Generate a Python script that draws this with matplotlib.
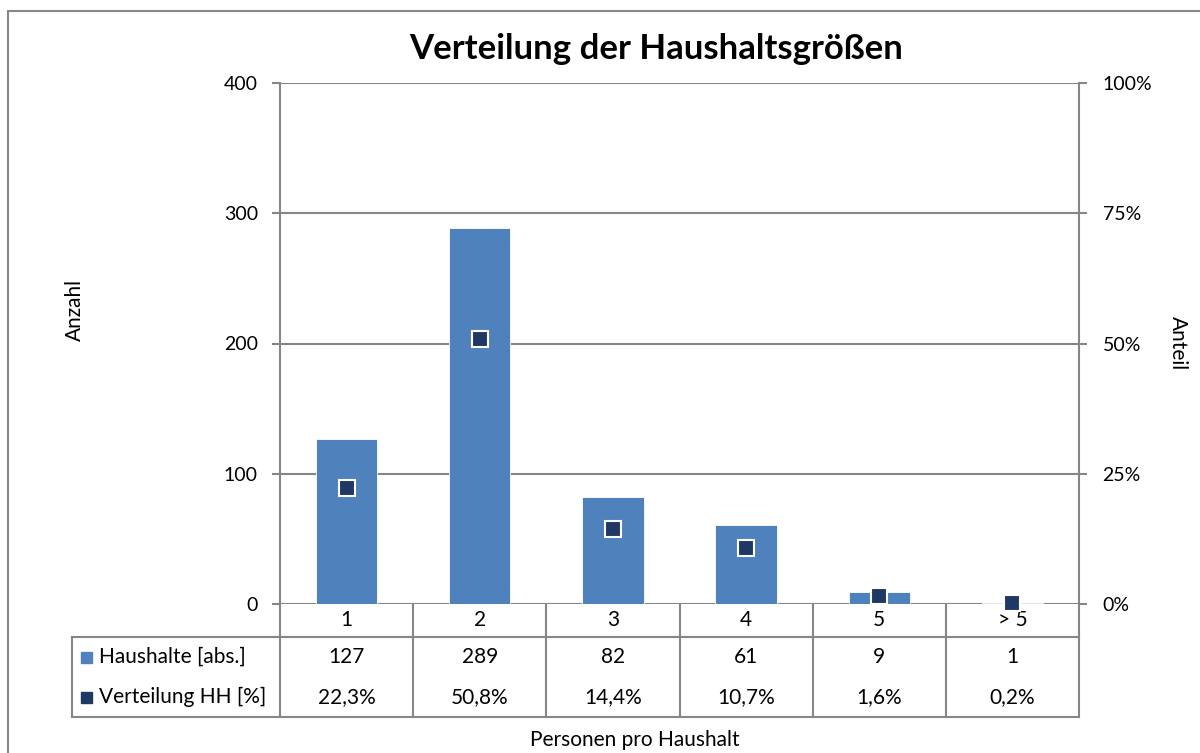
import matplotlib
matplotlib.use("Agg")
import matplotlib.pyplot as plt
from matplotlib.patches import Rectangle
from matplotlib.lines import Line2D
from matplotlib.ticker import FixedLocator, FuncFormatter
import matplotlib.transforms as mtransforms

plt.rcParams.update({"font.family": ["Lato", "DejaVu Sans"], "font.size": 14})

# ── Data ───────────────────────────────────────────────────────
categories = ["1", "2", "3", "4", "5", "> 5"]
haushalte  = [127, 289, 82, 61, 9, 1]
anteil_pct = [22.3, 50.8, 14.4, 10.7, 1.6, 0.2]
row_labels = ["Haushalte [abs.]", "Verteilung HH [%]"]

COL_BAR  = "#4F81BD"
COL_MARK = "#1F3864"
COL_LINE = "#868686"

W, H = 1200, 753
fig = plt.figure(figsize=(W / 100, H / 100), dpi=100)

def fx(px): return px / W
def fy(py): return 1 - py / H

# plot area in pixels: x 280..1079, y 83..604
ax = fig.add_axes([fx(280), fy(604), fx(1079) - fx(280), fy(83) - fy(604)])
ax2 = ax.twinx()

x = list(range(len(categories)))
ax.bar(x, haushalte, width=0.46, color=COL_BAR, edgecolor="white", lw=0.6, zorder=2)
ax.set_xlim(-0.5, len(categories) - 0.5)
ax.set_ylim(0, 400)
ax.yaxis.set_major_locator(FixedLocator([0, 100, 200, 300, 400]))
ax.grid(axis="y", color=COL_LINE, lw=1.5)
ax.set_axisbelow(True)
ax.set_xticks([])

ax2.plot(x, [p / 100 for p in anteil_pct], ls="none", marker="s", ms=11,
         mfc=COL_MARK, mec="white", mew=1.5, zorder=5, clip_on=False)
ax2.set_ylim(0, 1)
ax2.yaxis.set_major_locator(FixedLocator([0, 0.25, 0.5, 0.75, 1.0]))
ax2.yaxis.set_major_formatter(FuncFormatter(lambda v, _: f"{v*100:.0f}%"))

for a in (ax, ax2):
    for s in a.spines.values():
        s.set_color(COL_LINE)
        s.set_linewidth(1.5)
    a.spines["top"].set_visible(False)
    a.spines["bottom"].set_visible(False)
ax2.spines["left"].set_visible(False)
ax.spines["right"].set_visible(False)
ax.tick_params(axis="y", length=6, width=1.5, color=COL_LINE, pad=10, labelsize=14)
ax2.tick_params(axis="y", length=6, width=1.5, color=COL_LINE, pad=11, labelsize=14)

# ── Data table under the plot ─────────────────────────────────
trans = mtransforms.blended_transform_factory(ax.transData, ax.transAxes)
ph = 604 - 83
def ay(py): return (604 - py) / ph
y_cat, y_r1, y_r2 = ay(637), ay(677), ay(717)
x_leg = -0.5 - (280 - 72) / (799 / len(categories))

line_kw = dict(color=COL_LINE, lw=1.5, transform=trans, clip_on=False)
for k in range(len(categories) + 1):
    ax.add_line(Line2D([k - 0.5, k - 0.5], [0, y_r2], **line_kw))
ax.add_line(Line2D([x_leg, len(categories) - 0.5], [y_cat, y_cat], **line_kw))
ax.add_line(Line2D([x_leg, len(categories) - 0.5], [y_r2, y_r2], **line_kw))
ax.add_line(Line2D([x_leg, x_leg], [y_cat, y_r2], **line_kw))

TFS = 15
for i, c in enumerate(categories):
    ax.text(i, (0 + y_cat) / 2, c, transform=trans, ha="center", va="center", fontsize=TFS)
    ax.text(i, (y_cat + y_r1) / 2, f"{haushalte[i]}", transform=trans,
            ha="center", va="center", fontsize=TFS)
    ax.text(i, (y_r1 + y_r2) / 2, f"{anteil_pct[i]:.1f}%".replace(".", ","),
            transform=trans, ha="center", va="center", fontsize=TFS)

for lbl, yc, col in zip(row_labels, [(y_cat + y_r1) / 2, (y_r1 + y_r2) / 2], [COL_BAR, COL_MARK]):
    ypx = 604 - yc * ph
    fig.add_artist(Rectangle((fx(81), fy(ypx) - 5.5 / H), fx(92) - fx(81), 11 / H,
                             color=col, transform=fig.transFigure))
    fig.text(fx(99), fy(ypx), lbl, ha="left", va="center", fontsize=TFS)

# ── Titles and axis labels ────────────────────────────────────
fig.text(fx(656), fy(49), "Verteilung der Haushaltsgrößen", ha="center", va="center",
         fontsize=25, fontweight="bold")
fig.text(fx(75), fy(310), "Anzahl", ha="center", va="center", rotation=90, fontsize=TFS)
fig.text(fx(1178), fy(343), "Anteil", ha="center", va="center", rotation=-90, fontsize=TFS)
fig.text(fx(635), fy(740), "Personen pro Haushalt", ha="center", va="center", fontsize=TFS)

# chart border
fig.add_artist(Rectangle((fx(8), -0.05), 1.1, fy(11) + 0.05, fill=False,
                         edgecolor=COL_LINE, lw=1.5, transform=fig.transFigure))

fig.savefig("out.png", dpi=100)
